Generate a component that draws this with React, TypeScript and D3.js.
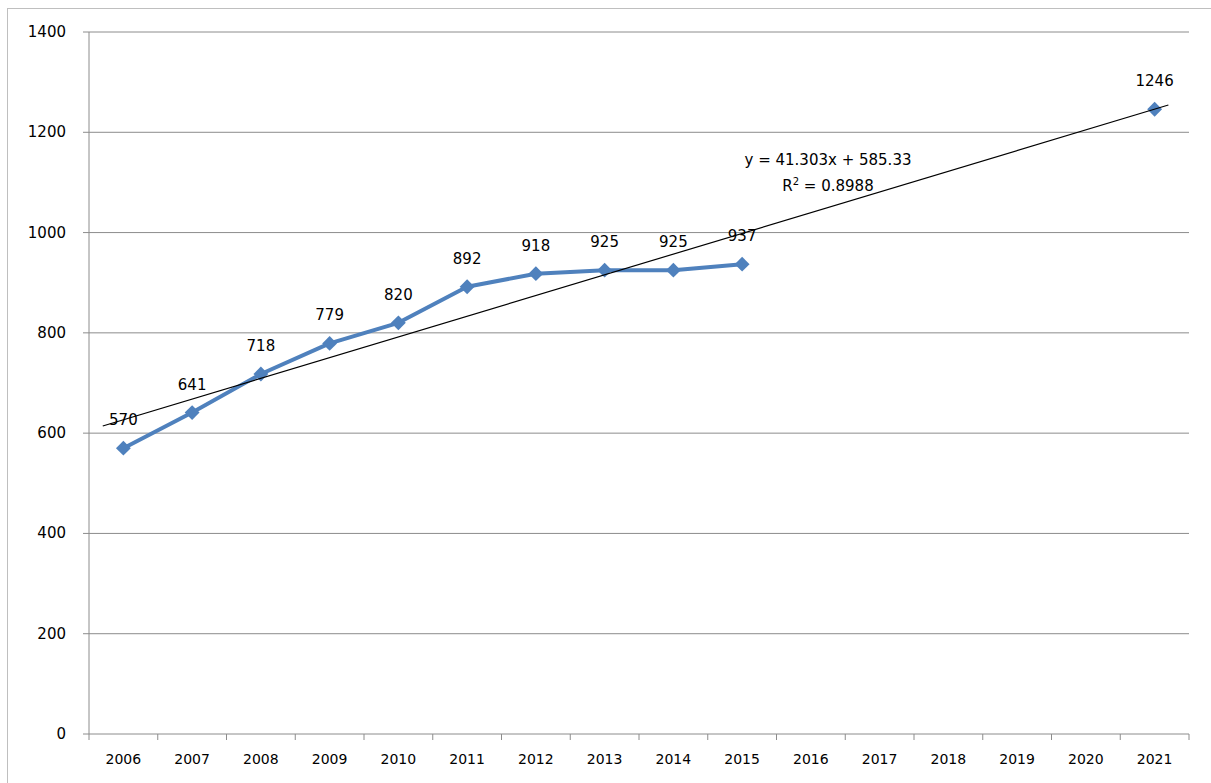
import React from 'react';
import * as d3 from 'd3';

const years = ['2006','2007','2008','2009','2010','2011','2012','2013','2014','2015','2016','2017','2018','2019','2020','2021'];
const dataYears = ['2006','2007','2008','2009','2010','2011','2012','2013','2014','2015'];
const dataValues = [570, 641, 718, 779, 820, 892, 918, 925, 925, 937];
const forecastYear = '2021';
const forecastValue = 1246;
const yTicks = [0, 200, 400, 600, 800, 1000, 1200, 1400];
const slope = 41.303;
const intercept = 585.33;
const eqText = 'y = 41.303x + 585.33';
const r2Text = '0.8988';

const W = 1211, H = 783;
const plot = { left: 89, right: 1189, top: 32, bottom: 734 };
const font = 'DejaVu Sans, Verdana, sans-serif';
const blue = '#4F81BD';

const App: React.FC = () => {
  const x = d3.scaleBand<string>().domain(years).range([plot.left, plot.right]);
  const cx = (yr: string) => (x(yr) ?? 0) + x.bandwidth() / 2;
  const y = d3.scaleLinear().domain([0, 1400]).range([plot.bottom, plot.top]);
  const idx = d3.scaleLinear().domain([1, 2]).range([cx(years[0]), cx(years[1])]);
  const line = d3.line<number>().x((_, i) => cx(dataYears[i])).y(d => y(d));
  const marker = d3.symbol().type(d3.symbolSquare).size(110)() as string;
  const points = [...dataValues.map((v, i) => ({ yr: dataYears[i], v })), { yr: forecastYear, v: forecastValue }];
  const t0 = 0.7, t1 = 16.2;

  return (
    <svg width={W} height={H} style={{ position: 'absolute', left: 0, top: 0, background: '#fff' }} fontFamily={font}>
      <rect x={7.5} y={8.5} width={W} height={H} fill="#fff" stroke="#bfbfbf" />
      {yTicks.map(t => (
        <g key={t}>
          <line x1={plot.left - 6} x2={plot.right} y1={y(t)} y2={y(t)} stroke="#8c8c8c" strokeWidth={1} />
          <text x={66} y={y(t) + 5} textAnchor="end" fontSize={15} fill="#000">{t}</text>
        </g>
      ))}
      <line x1={plot.left} x2={plot.left} y1={plot.top} y2={plot.bottom} stroke="#8c8c8c" />
      {years.map(yr => (
        <g key={yr}>
          <line x1={x(yr)} x2={x(yr)} y1={plot.bottom} y2={plot.bottom + 6} stroke="#8c8c8c" />
          <text x={cx(yr)} y={plot.bottom + 30} textAnchor="middle" fontSize={14}>{yr}</text>
        </g>
      ))}
      <line x1={plot.right} x2={plot.right} y1={plot.bottom} y2={plot.bottom + 6} stroke="#8c8c8c" />
      <path d={line(dataValues) ?? ''} fill="none" stroke={blue} strokeWidth={4} strokeLinejoin="round" />
      {points.map(p => (
        <path key={p.yr} d={marker} transform={`translate(${cx(p.yr)},${y(p.v)}) rotate(45)`} fill={blue} />
      ))}
      <line x1={idx(t0)} y1={y(slope * t0 + intercept)} x2={idx(t1)} y2={y(slope * t1 + intercept)} stroke="#000" strokeWidth={1.2} />
      {points.map(p => (
        <text key={p.yr} x={cx(p.yr)} y={y(p.v) - 23} textAnchor="middle" fontSize={15}>{p.v}</text>
      ))}
      <text x={828} y={165} textAnchor="middle" fontSize={15}>{eqText}</text>
      <text x={828} y={191} textAnchor="middle" fontSize={15}>R<tspan dy={-6} fontSize={10}>2</tspan><tspan dy={6}> = {r2Text}</tspan></text>
    </svg>
  );
};

export default App;
